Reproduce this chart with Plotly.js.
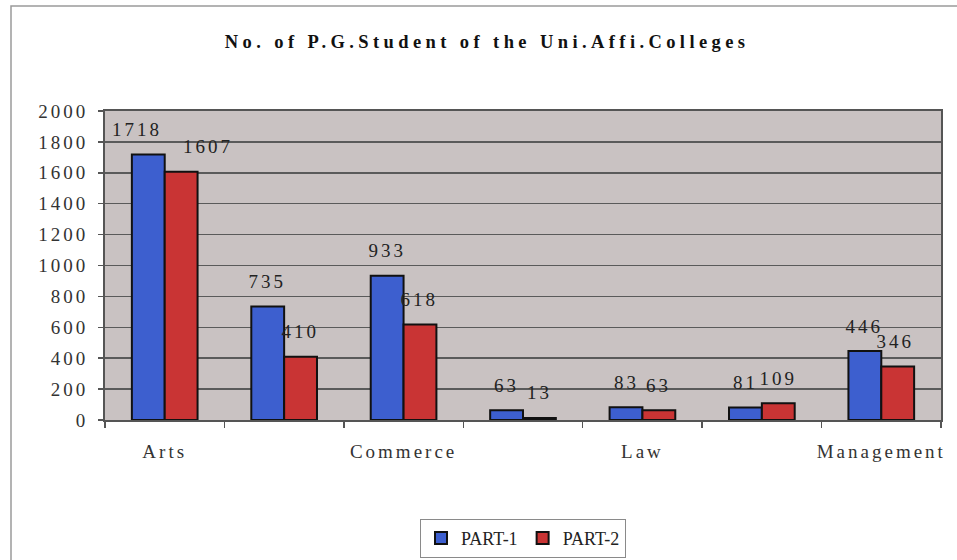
<!DOCTYPE html>
<html>
<head>
<meta charset="utf-8">
<script src="https://cdn.plot.ly/plotly-3.0.1.min.js"></script>
<style>
  html, body { margin: 0; padding: 0; background: #fff; }
  #chart { width: 957px; height: 560px; }
  #chart svg .xtick text, #chart svg .ytick text, #chart svg .annotation-text { letter-spacing: 3px; }
  #chart svg .gtitle { letter-spacing: 4.4px; }
</style>
</head>
<body>
<div id="chart"></div>
<script>
// ---- data ----
const tickLabels = ["Arts", "", "Commerce", "", "Law", "", "Management"];
const part1 = [1718, 735, 933, 63, 83, 81, 446];
const part2 = [1607, 410, 618, 13, 63, 109, 346];
const seriesNames = ["PART-1", "PART-2"];
const yTicks = [0, 200, 400, 600, 800, 1000, 1200, 1400, 1600, 1800, 2000];

const xIdx = tickLabels.map((_, i) => i);
const serif = "Liberation Serif";
const bargap = 0.45;
const barW = (1 - bargap) / 2;

const colors = ["#3d5fcf", "#c93434"];
const series = [part1, part2];

const traces = series.map((vals, s) => ({
  type: "bar",
  name: seriesNames[s],
  x: xIdx,
  y: vals,
  marker: { color: colors[s], line: { color: "#111", width: 2 } },
  hoverinfo: "skip"
}));

// label nudges (pixels) where the reference moved a label off its bar
const nudge = { "0-0": -11, "1-0": 27, "1-6": -2 };

const annotations = [];
series.forEach((vals, s) => {
  const off = (s === 0 ? -1 : 1) * barW / 2;
  vals.forEach((v, i) => {
    annotations.push({
      x: i + off, y: v, xref: "x", yref: "y",
      text: String(v), showarrow: false,
      yanchor: "middle", xanchor: "center",
      yshift: 25, xshift: nudge[s + "-" + i] || 0,
      font: { family: serif, size: 19, color: "#222" }
    });
  });
});

const layout = {
  width: 957, height: 560,
  paper_bgcolor: "#ffffff",
  plot_bgcolor: "#c9c2c2",
  margin: { l: 105, r: 16, t: 111, b: 140, autoexpand: false },
  title: {
    text: "<b>No. of P.G.Student of the Uni.Affi.Colleges</b>",
    font: { family: serif, size: 18.5, color: "#111" },
    x: 0.509, xanchor: "center", y: 0.925, yanchor: "middle"
  },
  barmode: "group",
  bargap: bargap,
  bargroupgap: 0,
  showlegend: true,
  legend: {
    orientation: "h",
    x: 0.5, xanchor: "center",
    y: -0.32, yanchor: "top",
    bgcolor: "#ffffff",
    bordercolor: "#8a8a8a", borderwidth: 1,
    font: { family: serif, size: 18, color: "#222" },
    itemwidth: 30,
    traceorder: "normal"
  },
  xaxis: {
    range: [-0.5, 6.5],
    tickmode: "array",
    tickvals: xIdx,
    ticktext: tickLabels,
    ticks: "",
    ticklabelstandoff: 13,
    tickfont: { family: serif, size: 19, color: "#333" },
    showgrid: false,
    zeroline: false,
    showline: true, mirror: true, linecolor: "#555", linewidth: 2,
    minor: {
      tickmode: "array",
      tickvals: [-0.5, 0.5, 1.5, 2.5, 3.5, 4.5, 5.5, 6.5],
      ticks: "outside", ticklen: 6, tickcolor: "#555", tickwidth: 1.5,
      showgrid: false
    },
    fixedrange: true
  },
  yaxis: {
    range: [0, 2000],
    tickmode: "array",
    tickvals: yTicks,
    ticktext: yTicks.map(String),
    ticks: "outside", ticklen: 5, tickcolor: "#555", tickwidth: 1.5,
    ticklabelstandoff: 6,
    tickfont: { family: serif, size: 19, color: "#333" },
    showgrid: true, gridcolor: "#5a5a5a", gridwidth: 1.5,
    zeroline: false,
    showline: true, mirror: true, linecolor: "#555", linewidth: 2,
    fixedrange: true
  },
  annotations: annotations,
  shapes: [{
    type: "rect", xref: "paper", yref: "paper",
    x0: (11 - 105) / 836, x1: (962 - 105) / 836,
    y0: (420 - 565) / 309, y1: (420 - 6) / 309,
    line: { color: "#9a9a9a", width: 1.5 },
    fillcolor: "rgba(0,0,0,0)", layer: "below"
  }]
};

Plotly.newPlot("chart", traces, layout, { displayModeBar: false, staticPlot: true });
</script>
</body>
</html>
